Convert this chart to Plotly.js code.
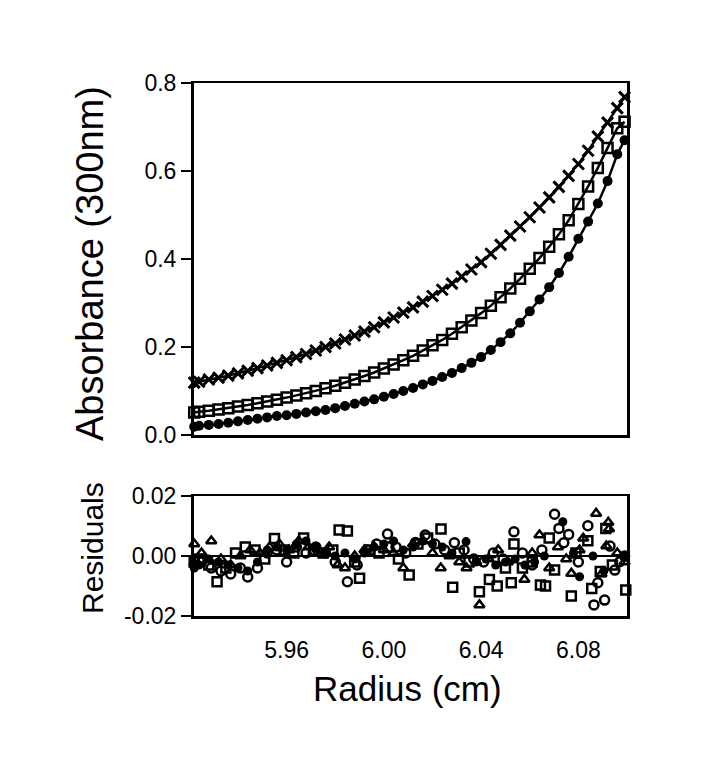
<!DOCTYPE html>
<html>
<head>
<meta charset="utf-8">
<script src="https://cdn.plot.ly/plotly-3.0.1.min.js"></script>
<style>html,body{margin:0;padding:0;background:#fff;}#chart{width:721px;height:774px;}</style>
</head>
<body>
<div id="chart"></div>
<script>
// ---- Data ----
const radius = [5.922,5.924,5.928,5.932,5.936,5.940,5.944,5.948,5.952,5.956,5.960,5.964,5.968,5.972,5.976,5.980,5.984,5.988,5.992,5.996,6.000,6.004,6.008,6.012,6.016,6.020,6.024,6.028,6.032,6.036,6.040,6.044,6.048,6.052,6.056,6.060,6.064,6.068,6.072,6.076,6.080,6.084,6.088,6.092,6.096,6.099];
const absCross = [0.119,0.121,0.126,0.130,0.135,0.140,0.146,0.152,0.158,0.164,0.170,0.177,0.184,0.192,0.200,0.208,0.217,0.226,0.235,0.245,0.256,0.267,0.278,0.290,0.303,0.316,0.330,0.344,0.360,0.376,0.393,0.412,0.432,0.453,0.474,0.495,0.517,0.540,0.564,0.589,0.616,0.646,0.678,0.710,0.743,0.768];
const absSquare = [0.051,0.053,0.055,0.058,0.061,0.065,0.068,0.072,0.076,0.080,0.085,0.090,0.095,0.100,0.106,0.112,0.119,0.126,0.134,0.142,0.151,0.160,0.170,0.180,0.192,0.204,0.216,0.230,0.245,0.260,0.277,0.294,0.313,0.333,0.355,0.378,0.402,0.428,0.456,0.488,0.525,0.565,0.607,0.652,0.697,0.712];
const absCircle = [0.019,0.021,0.023,0.025,0.028,0.031,0.034,0.037,0.040,0.043,0.045,0.048,0.051,0.054,0.057,0.061,0.066,0.071,0.076,0.081,0.087,0.093,0.100,0.107,0.115,0.123,0.132,0.141,0.152,0.164,0.177,0.193,0.211,0.231,0.255,0.281,0.308,0.336,0.368,0.405,0.446,0.485,0.526,0.577,0.638,0.670];

const resCircR = [5.922,5.925,5.929,5.933,5.937,5.941,5.944,5.948,5.952,5.956,5.960,5.964,5.968,5.972,5.976,5.980,5.985,5.989,5.993,5.997,6.0015,6.005,6.009,6.013,6.017,6.021,6.025,6.029,6.033,6.037,6.041,6.045,6.049,6.0535,6.057,6.061,6.065,6.0702,6.072,6.074,6.076,6.080,6.0839,6.0864,6.088,6.0908,6.093,6.095,6.097,6.099];
const resCirc = [-0.003,-0.002,-0.004,-0.005,-0.006,-0.004,-0.007,-0.004,0.001,0.002,-0.002,0.003,0.001,0.003,0.001,-0.002,-0.0086,-0.003,0.002,0.004,0.0073,0.003,0.001,0.0045,0.007,0.004,0.002,0.0044,0.002,-0.001,-0.002,0.001,-0.001,0.0081,0.001,-0.003,0.002,0.0139,0.0092,0.0044,0.0072,-0.002,0.0101,-0.0163,-0.0089,-0.0147,0.0033,-0.0047,-0.0019,0.000];

const resSqR = [5.922,5.924,5.928,5.9314,5.935,5.939,5.943,5.947,5.951,5.955,5.959,5.963,5.967,5.971,5.975,5.979,5.9816,5.985,5.988,5.990,5.994,5.998,6.002,6.006,6.0104,6.014,6.018,6.0235,6.0283,6.031,6.035,6.0393,6.0434,6.0466,6.050,6.0524,6.0535,6.057,6.061,6.0644,6.0665,6.068,6.0702,6.0771,6.079,6.0839,6.0855,6.089,6.0913,6.094,6.0995];
const resSq = [-0.002,-0.001,-0.003,-0.0086,-0.004,0.001,0.003,0.002,-0.001,0.0058,0.002,0.001,0.006,0.002,0.001,0.002,0.0087,0.0083,-0.002,-0.0074,0.002,0.001,0.003,-0.001,-0.0063,0.004,0.006,0.009,-0.0104,0.001,-0.002,-0.0119,-0.0078,-0.010,-0.004,-0.0089,0.004,-0.004,-0.002,-0.0097,-0.010,0.006,-0.0047,-0.0133,0.001,0.0051,-0.0108,-0.0052,0.0092,-0.003,-0.0113];

const resTriR = [5.922,5.925,5.929,5.933,5.937,5.941,5.945,5.949,5.953,5.957,5.961,5.965,5.969,5.973,5.9775,5.981,5.984,5.988,5.992,5.996,6.000,6.004,6.008,6.012,6.016,6.020,6.0234,6.027,6.031,6.034,6.038,6.0393,6.043,6.047,6.051,6.0578,6.061,6.064,6.068,6.0716,6.075,6.0771,6.0805,6.082,6.0873,6.0895,6.0915,6.0923,6.0926,6.096,6.099];
const resTri = [0.004,0.001,0.005,-0.001,-0.003,0.000,0.002,0.001,0.003,0.004,0.002,0.005,0.003,0.002,0.003,-0.003,-0.004,0.000,0.002,0.003,0.002,0.001,-0.004,0.004,0.005,0.001,-0.004,0.000,-0.002,-0.004,-0.002,-0.0163,-0.001,0.002,-0.002,-0.0078,0.001,0.007,-0.004,0.003,-0.001,-0.0058,0.002,0.0059,0.0142,-0.006,0.0033,0.0112,0.009,0.001,-0.002];

const resDotR = [5.922,5.924,5.928,5.932,5.936,5.940,5.944,5.948,5.952,5.956,5.960,5.964,5.968,5.972,5.976,5.980,5.984,5.988,5.992,5.996,6.000,6.004,6.008,6.012,6.016,6.020,6.024,6.028,6.0338,6.038,6.042,6.046,6.050,6.054,6.058,6.062,6.066,6.0736,6.078,6.0805,6.086,6.0905,6.0985];
const resDot = [-0.004,-0.003,-0.001,-0.002,-0.003,-0.004,-0.005,-0.002,0.002,0.003,0.002,0.004,0.005,0.003,0.001,0.000,0.001,-0.001,0.001,0.003,0.004,0.005,0.002,0.003,0.005,0.004,0.003,0.001,0.0048,-0.002,-0.001,-0.003,-0.002,-0.001,-0.003,-0.002,0.000,0.0114,0.001,-0.0069,0.000,-0.005,0.000];

const absTicks = [0, 0.2, 0.4, 0.6, 0.8];
const absTickText = ['0.0', '0.2', '0.4', '0.6', '0.8'];
const resTicks = [-0.02, 0, 0.02];
const resTickText = ['-0.02', '0.00', '0.02'];
const radiusTicks = [5.96, 6.00, 6.04, 6.08];
const radiusTickText = ['5.96', '6.00', '6.04', '6.08'];

// ---- Drawing ----
const W = 721, H = 774;
const FONT = 'Liberation Sans, Arial, Helvetica, sans-serif';
const px2x = p => p / W;
const px2y = p => 1 - p / H;

const traces = [
  {x: radius, y: absCircle, xaxis: 'x', yaxis: 'y', mode: 'lines+markers', cliponaxis: false,
   line: {color: '#000', width: 2.5}, marker: {symbol: 'circle', size: 10, color: '#000'}},
  {x: radius, y: absSquare, xaxis: 'x', yaxis: 'y', mode: 'lines+markers', cliponaxis: false,
   line: {color: '#000', width: 2.5}, marker: {symbol: 'square-open', size: 10, color: '#000', line: {width: 2.5}}},
  {x: radius, y: absCross, xaxis: 'x', yaxis: 'y', mode: 'lines+markers', cliponaxis: false,
   line: {color: '#000', width: 2.5}, marker: {symbol: 'x-thin-open', size: 11, color: '#000', line: {width: 3, color: '#000'}}},
  {x: resCircR, y: resCirc, xaxis: 'x2', yaxis: 'y2', mode: 'markers', cliponaxis: false,
   marker: {symbol: 'circle-open', size: 9, color: '#000', line: {width: 2.5}}},
  {x: resSqR, y: resSq, xaxis: 'x2', yaxis: 'y2', mode: 'markers', cliponaxis: false,
   marker: {symbol: 'square-open', size: 9, color: '#000', line: {width: 2.5}}},
  {x: resTriR, y: resTri, xaxis: 'x2', yaxis: 'y2', mode: 'markers', cliponaxis: false,
   marker: {symbol: 'triangle-up-open', size: 9, color: '#000', line: {width: 2.5}}},
  {x: resDotR, y: resDot, xaxis: 'x2', yaxis: 'y2', mode: 'markers', cliponaxis: false,
   marker: {symbol: 'circle', size: 9, color: '#000'}}
];

const xDom = [px2x(193.5), px2x(627)];
const xRange = [5.9217, 6.1000];
const frame = {showline: true, linecolor: '#000', linewidth: 2.5, mirror: true, showgrid: false, zeroline: false};
const tickFont = {family: FONT, size: 23, color: '#000'};

const layout = {
  width: W, height: H,
  margin: {l: 0, r: 0, t: 0, b: 0, pad: 0},
  paper_bgcolor: '#fff', plot_bgcolor: '#fff',
  showlegend: false,
  font: {family: FONT, color: '#000', size: 23},
  xaxis: Object.assign({}, frame, {domain: xDom, range: xRange, anchor: 'y', showticklabels: false, ticks: ''}),
  yaxis: Object.assign({}, frame, {domain: [px2y(435), px2y(83)], range: [0, 0.8], anchor: 'x',
    tickmode: 'array', tickvals: absTicks, ticktext: absTickText, ticks: 'outside', ticklen: 10, tickwidth: 2, tickcolor: '#000',
    tickfont: tickFont}),
  xaxis2: Object.assign({}, frame, {domain: xDom, range: xRange, anchor: 'y2',
    tickmode: 'array', tickvals: radiusTicks, ticktext: radiusTickText, ticks: 'outside', ticklen: 12, tickcolor: 'rgba(0,0,0,0)',
    tickfont: tickFont}),
  yaxis2: Object.assign({}, frame, {domain: [px2y(616), px2y(496)], range: [-0.02, 0.02], anchor: 'x2',
    zeroline: true, zerolinecolor: '#000', zerolinewidth: 2,
    tickmode: 'array', tickvals: resTicks, ticktext: resTickText, ticks: 'outside', ticklen: 10, tickwidth: 2, tickcolor: '#000',
    tickfont: tickFont}),
  annotations: [
    {text: 'Absorbance (300nm)', xref: 'paper', yref: 'paper', x: px2x(90), y: px2y(264), textangle: -90,
     showarrow: false, xanchor: 'center', yanchor: 'middle', font: {family: FONT, size: 38, color: '#000'}},
    {text: 'Residuals', xref: 'paper', yref: 'paper', x: px2x(92), y: px2y(548), textangle: -90,
     showarrow: false, xanchor: 'center', yanchor: 'middle', font: {family: FONT, size: 30, color: '#000'}},
    {text: 'Radius (cm)', xref: 'paper', yref: 'paper', x: px2x(407), y: px2y(688),
     showarrow: false, xanchor: 'center', yanchor: 'middle', font: {family: FONT, size: 35, color: '#000'}}
  ]
};

Plotly.newPlot('chart', traces, layout, {staticPlot: true, displayModeBar: false});
</script>
</body>
</html>
